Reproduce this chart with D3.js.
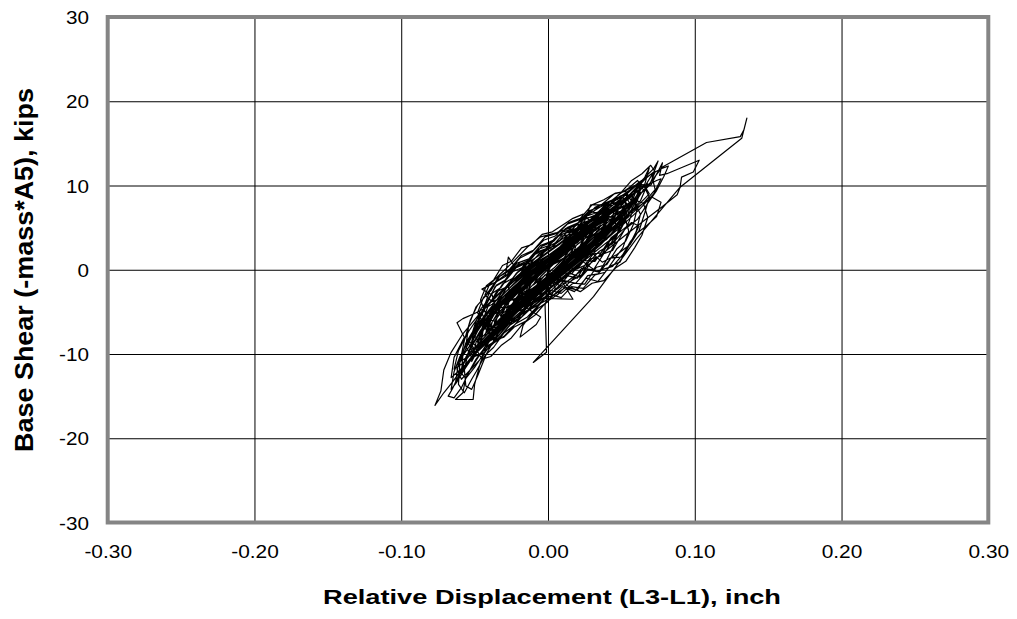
<!doctype html>
<html>
<head>
<meta charset="UTF-8">
<title>Base shear vs relative displacement</title>
<script src="https://d3js.org/d3.v7.min.js"></script>
<style>
  body { margin: 0; background: #fff; }
  svg text { font-family: "Liberation Sans", Arial, sans-serif; fill: #000; }
</style>
</head>
<body>
<svg id="chart" width="1017" height="619"></svg>
<script>
// axis ticks and labels
var xTicks = [-0.30, -0.20, -0.10, 0.00, 0.10, 0.20, 0.30];
var xTickLabels = ["-0.30", "-0.20", "-0.10", "0.00", "0.10", "0.20", "0.30"];
var yTicks = [-30, -20, -10, 0, 10, 20, 30];
var yTickLabels = ["-30", "-20", "-10", "0", "10", "20", "30"];
var xTitle = "Relative Displacement (L3-L1), inch";
var yTitle = "Base Shear (-mass*A5), kips";

// [displacement (inch), base shear (kips)], in drawing order
var loopsEarly = [
  [0.000,0.3],[0.006,1.2],[0.013,2.4],[0.019,3.3],[0.016,2.2],[0.009,0.8],[0.001,-0.6],[-0.008,-1.9],[-0.015,-3.0],[-0.011,-1.4],[-0.004,-0.1],
  [0.005,1.3],[0.014,2.8],[0.024,4.1],[0.031,5.0],[0.028,3.6],[0.020,1.9],[0.010,0.4],[0.000,-1.2],[-0.011,-2.9],[-0.022,-4.3],[-0.029,-5.2],[-0.026,-3.5],[-0.017,-1.6],[-0.007,0.0],
  [0.004,1.7],[0.015,3.3],[0.027,4.9],[0.038,6.4],[0.046,7.5],[0.043,5.8],[0.034,3.9],[0.022,2.1],[0.010,0.3],[-0.003,-1.6],[-0.016,-3.6],[-0.029,-5.8],[-0.040,-7.7],[-0.048,-9.3],[-0.046,-7.4],[-0.037,-5.1],[-0.026,-2.8],[-0.014,-0.9],[-0.002,0.9],
  [0.011,2.8],[0.023,4.6],[0.035,6.0],[0.042,6.8],[0.039,5.1],[0.029,3.2],[0.017,1.4],[0.004,-0.5],[-0.010,-2.4],[-0.023,-4.4],[-0.035,-6.3],[-0.043,-7.9],[-0.040,-5.9],[-0.030,-3.8],[-0.018,-1.8],[-0.006,0.2],
  [0.008,2.0],[0.021,3.9],[0.034,5.6],[0.047,7.4],[0.056,8.9],[0.061,9.8],[0.057,8.0],[0.048,6.0],[0.036,4.0],[0.023,2.0],[0.009,-0.1],[-0.006,-2.2],[-0.020,-4.3],[-0.033,-6.5],[-0.044,-8.6],[-0.053,-10.7],[-0.059,-12.3],[-0.058,-10.1],[-0.051,-7.6],[-0.041,-5.2],[-0.029,-3.0],[-0.016,-0.9],[-0.003,1.0],
  [0.012,3.0],[0.026,4.8],[0.039,6.5],[0.048,7.6],[0.044,5.7],[0.033,3.5],[0.019,1.3],[0.004,-0.9],[-0.011,-3.1],[-0.026,-5.4],[-0.039,-7.6],[-0.050,-9.8],[-0.058,-11.8],[-0.063,-13.4],[-0.061,-11.0],[-0.055,-8.5],[-0.046,-6.1],[-0.034,-3.8],[-0.020,-1.5],[-0.007,0.5]
];
var loopsMid = [
  [0.009,2.6],[0.024,4.5],[0.038,6.3],[0.050,8.0],[0.060,9.6],[0.067,10.9],[0.072,11.6],[0.066,9.9],[0.069,9.0],[0.060,7.4],[0.047,5.5],[0.033,3.4],[0.018,1.1],[0.003,-1.2],[-0.012,-3.5],[-0.026,-5.9],[-0.039,-8.3],[-0.049,-10.6],[-0.056,-12.8],[-0.058,-14.6],[-0.063,-15.4],[-0.051,-15.4],[-0.050,-13.6],[-0.046,-11.0],[-0.040,-8.4],[-0.031,-5.9],[-0.019,-3.4],[-0.006,-1.0],
  [0.007,1.2],[0.020,3.0],[0.031,4.5],[0.039,5.6],[0.035,3.9],[0.024,2.0],[0.012,0.2],[-0.001,-1.7],[-0.014,-3.7],[-0.027,-5.6],[-0.038,-7.3],[-0.041,-5.6],[-0.033,-3.4],[-0.022,-1.4],[-0.010,0.4],
  [0.004,2.2],[0.018,4.0],[0.032,5.7],[0.045,7.5],[0.054,9.1],[0.052,7.2],[0.043,5.2],[0.031,3.1],[0.017,0.9],[0.002,-1.3],[-0.013,-3.6],[-0.028,-6.0],[-0.041,-8.4],[-0.052,-10.5],[-0.060,-11.9],[-0.066,-12.8],[-0.064,-10.4],[-0.057,-8.0],[-0.062,-6.3],[-0.058,-5.8],[-0.050,-5.2],[-0.038,-4.1],[-0.025,-2.0],[-0.012,0.0],
  [0.002,1.9],[0.016,3.8],[0.030,5.5],[0.044,7.3],[0.056,9.0],[0.064,10.5],[0.061,8.6],[0.052,6.6],[0.039,4.5],[0.025,2.3],[0.010,0.0],[-0.006,-2.3],[-0.021,-4.6],[-0.035,-6.9],[-0.047,-9.2],[-0.057,-11.4],[-0.065,-13.3],[-0.071,-14.6],[-0.077,-16.1],[-0.073,-14.4],[-0.071,-11.9],[-0.066,-9.8],[-0.058,-7.6],[-0.047,-5.3],[-0.034,-3.0],[-0.020,-0.9],[-0.006,1.1],
  [0.009,2.6],[0.021,4.0],[0.030,5.0],[0.027,3.4],[0.017,1.6],[0.005,-0.3],[-0.008,-2.3],[-0.021,-4.1],[-0.032,-5.6],[-0.035,-4.0],[-0.028,-2.1],[-0.017,-0.3],[-0.005,1.4],
  [0.010,3.3],[0.025,5.2],[0.040,7.1],[0.053,8.9],[0.064,10.6],[0.072,12.0],[0.075,12.9],[0.071,11.0],[0.073,9.5],[0.066,8.1],[0.055,6.3],[0.041,4.3],[0.026,2.2],[0.011,0.0],[-0.005,-2.3],[-0.020,-4.5],[-0.034,-6.8],[-0.046,-8.8],[-0.055,-10.4],[-0.060,-10.9],[-0.056,-8.7],[-0.048,-6.4],[-0.037,-4.3],[-0.024,-2.1],[-0.010,0.0]
];
var loopsLate = [
  [0.005,2.1],[0.019,3.9],[0.033,5.7],[0.046,7.4],[0.055,8.4],[0.058,8.9],[0.054,6.9],[0.044,4.9],[0.031,2.8],[0.016,0.6],[0.001,-1.6],[-0.014,-3.8],[-0.028,-6.0],[-0.040,-8.0],[-0.047,-9.2],[-0.044,-7.1],[-0.035,-4.8],[-0.023,-2.6],[-0.010,-0.5],
  [0.003,1.4],[0.014,2.8],[0.023,3.9],[0.027,4.3],[0.022,2.8],[0.012,1.1],[0.000,-0.8],[-0.012,-2.4],[-0.022,-3.4],[-0.028,-3.8],[-0.024,-2.2],[-0.015,-0.6],[-0.003,1.0],
  [0.010,2.7],[0.023,4.3],[0.035,5.4],[0.045,6.2],[0.040,4.6],[0.030,2.9],[0.017,1.0],[0.003,-1.0],[-0.011,-3.0],[-0.025,-5.0],[-0.038,-7.0],[-0.048,-8.9],[-0.054,-10.0],[-0.050,-7.8],[-0.041,-5.5],[-0.029,-3.3],[-0.016,-1.2],[-0.003,0.7],
  [0.011,2.7],[0.025,4.6],[0.039,6.5],[0.052,8.3],[0.062,9.5],[0.068,10.2],[0.063,8.2],[0.053,6.2],[0.040,4.1],[0.026,2.0],[0.011,-0.1],[-0.004,-2.1],[-0.018,-4.0],[-0.031,-5.8],[-0.040,-7.0],[-0.042,-7.4],[-0.037,-5.2],[-0.027,-3.0],[-0.015,-0.9],[-0.002,1.1],
  [0.013,3.1],[0.027,5.0],[0.041,6.8],[0.054,8.4],[0.065,9.8],[0.074,10.6],[0.077,10.8],[0.072,9.0],[0.062,7.1],[0.049,5.0],[0.035,2.9],[0.020,0.8],[0.005,-1.2],[-0.010,-3.1],[-0.024,-5.0],[-0.037,-7.1],[-0.049,-9.3],[-0.058,-11.1],[-0.064,-11.8],[-0.061,-9.6],[-0.054,-7.3],[-0.045,-5.0],[-0.034,-2.9],[-0.022,-0.9],[-0.009,1.0],
  [0.006,2.9],[0.020,4.7],[0.034,6.2],[0.046,7.0],[0.052,7.5],[0.048,5.6],[0.038,3.6],[0.025,1.6],[0.011,-0.3],[-0.003,-2.1],[-0.016,-3.6],[-0.028,-4.5],[-0.036,-4.4],[-0.038,-3.0],[-0.045,-2.3],[-0.036,-1.5],[-0.029,-0.6],[-0.027,1.5],[-0.022,0.2],[-0.012,1.0],[0.000,2.4]
];
var bigExcursion = [
  [0.014,4.2],[0.029,6.0],[0.043,7.9],[0.056,9.5],[0.064,10.4],[0.060,8.6],[0.051,6.7],[0.039,4.7],[0.026,2.7],[0.013,0.7],[0.003,-1.2],[-0.002,-4.2],[-0.001,-9.8],[-0.010,-11.0],
  [0.031,-3.2],[0.060,3.6],[0.090,9.8],[0.132,15.6],[0.1355,18.0],[0.1335,16.6],[0.131,15.8],[0.108,15.1],[0.078,12.2],[0.070,10.4],[0.058,8.0],[0.044,5.6],[0.029,3.2],[0.014,0.9],[0.000,-1.3],
  [-0.014,-3.4],[-0.027,-5.4],[-0.039,-7.6],[-0.048,-9.6],[-0.052,-10.9],[-0.049,-8.6],[-0.041,-6.2],[-0.030,-3.9],[-0.018,-1.7],[-0.005,0.3]
];
var loopsTailA = [
  [0.010,2.9],[0.024,4.8],[0.038,6.6],[0.051,8.3],[0.063,9.9],[0.070,10.0],[0.078,12.7],[0.076,11.2],[0.081,11.4],[0.092,12.2],[0.103,13.0],[0.099,11.6],[0.091,11.0],[0.090,9.8],[0.088,8.9],[0.078,7.5],[0.066,5.9],[0.052,4.0],[0.037,1.9],[0.022,-0.2],[0.007,-2.2],[-0.008,-4.0],[-0.021,-5.7],[-0.030,-6.4],[-0.027,-4.6],[-0.018,-2.7],[-0.006,-0.7],
  [0.008,1.5],[0.020,3.3],[0.030,4.6],[0.036,5.3],[0.031,3.8],[0.021,2.1],[0.009,0.2],[-0.004,-1.7],[-0.016,-3.5],[-0.026,-4.9],[-0.032,-5.5],[-0.029,-3.9],[-0.020,-2.0],[-0.008,-0.1],
  [0.006,2.0],[0.019,3.6],[0.029,4.8],[0.034,5.6],[0.030,4.2],[0.022,2.6],[0.011,0.9],[-0.001,-0.9],[-0.013,-2.7],[-0.024,-4.3],[-0.031,-5.2],[-0.027,-3.7],[-0.018,-1.9],[-0.007,0.0],
  [0.007,1.8],[0.021,3.6],[0.033,5.2],[0.040,6.1],[0.036,4.5],[0.027,2.6],[0.015,0.7],[0.002,-1.2],[-0.010,-3.0],[-0.021,-4.6],[-0.026,-5.1],[-0.022,-3.4],[-0.013,-1.6],[-0.002,0.2],
  [0.010,2.2],[0.023,4.1],[0.035,5.9],[0.043,7.0],[0.048,7.7],[0.045,6.0],[0.036,4.1],[0.024,2.1],[0.011,0.1],[-0.003,-2.0],[-0.016,-4.0],[-0.029,-6.1],[-0.040,-8.1],[-0.046,-9.0],[-0.044,-7.0],[-0.036,-4.8],[-0.025,-2.6],[-0.012,-0.5],
  [0.002,1.6],[0.014,3.8],[0.025,5.8],[0.029,7.7],[0.035,7.7],[0.043,7.6],[0.050,8.1],[0.053,7.0],[0.047,5.0],[0.036,3.0],[0.023,1.0],[0.009,-1.0],[-0.005,-3.0],[-0.018,-4.9],[-0.030,-6.7],[-0.039,-8.0],[-0.036,-6.0],[-0.027,-3.9],[-0.015,-1.8],[-0.003,0.2],
  [0.011,2.4],[0.024,4.2],[0.034,5.6],[0.041,6.4],[0.038,4.9],[0.029,3.0],[0.017,1.1],[0.004,-0.9],[-0.009,-2.8],[-0.020,-4.4],[-0.027,-5.3],[-0.023,-3.6],[-0.014,-1.8],[-0.003,0.1],
  [0.012,1.5],[0.026,2.6],[0.037,0.9],[0.047,1.8],[0.056,3.0],[0.061,4.4],[0.067,5.2],[0.074,6.3],[0.077,8.0],[0.071,8.6],[0.060,7.3],[0.047,5.5],[0.032,3.3],[0.017,1.1],[0.002,-1.1],[-0.013,-3.2],[-0.026,-5.1],[-0.036,-6.5],[-0.033,-4.6],[-0.024,-2.5],[-0.012,-0.5],
  [0.000,1.2],[0.012,2.9],[0.024,4.4],[0.031,5.0],[0.026,3.5],[0.017,1.6],[0.006,-0.4],[0.017,-3.5],[-0.002,-3.4],[-0.012,-5.4],[-0.017,-6.6],[-0.019,-8.0],[-0.008,-6.5],[-0.005,-5.6],[-0.016,-4.4],[-0.022,-3.6],[-0.016,-1.9],[-0.006,-0.1]
];
var loopsTailB = [
  [0.004,1.1],[0.012,2.2],[0.018,2.9],[0.015,1.5],[0.007,0.0],[-0.002,-1.4],[-0.011,-2.6],[-0.016,-3.1],[-0.013,-1.7],[-0.005,-0.3],
  [0.006,1.6],[0.016,3.1],[0.025,4.2],[0.022,2.6],[0.013,0.9],[0.003,-0.8],[-0.008,-2.4],[-0.018,-3.7],[-0.023,-4.1],[-0.019,-2.5],[-0.010,-0.8],[0.000,0.9],
  [0.010,2.4],[0.019,3.4],[0.024,3.6],[0.020,2.2],[0.011,0.6],[0.000,-1.1],[-0.011,-2.6],[-0.019,-3.5],[-0.016,-1.9],[-0.008,-0.4],
  [0.003,1.0],[-0.010,-0.9],[-0.021,-2.6],[-0.031,-4.1],[-0.040,-5.6],[-0.047,-6.9],[-0.052,-7.6],[-0.054,-8.3],[-0.050,-9.5],[-0.043,-8.4],[-0.033,-6.6],[-0.022,-4.6],[-0.010,-2.5],[0.003,-0.4],[0.016,1.7],[0.028,3.6],[0.037,5.0],[0.034,3.4],[0.025,1.8],[0.014,0.1],[0.002,-1.5],
  [-0.010,-2.8],[-0.023,-4.8],[-0.036,-7.0],[-0.047,-9.3],[-0.056,-11.6],[-0.062,-13.3],[-0.066,-14.2],[-0.064,-12.1],[-0.060,-10.3],[-0.054,-8.4],[-0.045,-6.3],[-0.034,-4.2],[-0.022,-2.3],[-0.009,-0.4],[0.004,1.5],[0.017,3.2],[0.029,4.8],[0.039,6.0],[0.045,6.4],[0.041,4.8],[0.032,2.9],[0.019,0.9],[0.005,-1.1],
  [-0.009,-3.1],[-0.022,-5.2],[-0.034,-7.5],[-0.042,-10.0],[-0.048,-12.6],[-0.052,-14.2],[-0.056,-13.8],[-0.057,-11.8],[-0.054,-9.6],[-0.046,-7.2],[-0.035,-4.8],[-0.023,-2.5],[-0.010,-0.4],[0.004,1.6],[0.018,3.4],[0.030,4.9],[0.040,5.9],[0.047,6.9],
  [0.043,5.0],[0.033,3.1],[0.021,1.2],[0.008,-0.7],[-0.005,-2.5],[-0.017,-4.1],[-0.024,-4.9],[-0.020,-3.1],[-0.011,-1.3],[0.000,0.5],[0.011,2.0],[0.019,2.8],[0.016,1.4],[0.008,-0.1],[-0.002,-1.4],[-0.008,-2.0],[-0.005,-0.8],[0.002,0.4],
  [0.014,2.8],[0.027,4.8],[0.040,7.0],[0.030,6.0],[0.017,5.1],[0.006,4.4],[-0.005,3.9],[-0.014,2.7],[-0.024,0.9],[-0.033,-0.6],[-0.040,-1.8],[-0.043,-3.0],[-0.038,-3.8],[-0.028,-3.0],[-0.016,-1.6],[-0.003,0.2],[0.010,2.1],
  [0.022,1.2],[0.033,-0.2],[0.044,0.4],[0.052,2.0],[0.058,3.7],[0.062,5.2],[0.057,5.6],[0.047,4.2],[0.034,2.4],[0.020,0.4],[0.006,-1.6],[-0.007,-3.4],[-0.015,-4.3],[-0.010,-2.7],[0.000,-0.9],
  [0.013,1.5],[0.027,3.6],[0.040,5.5],[0.051,7.2],[0.059,8.5],[0.063,9.2],[0.059,7.4],[0.050,5.4],[0.037,3.3],[0.023,1.2],[0.008,-0.9],[-0.007,-3.0],[-0.021,-5.0],[-0.033,-6.9],[-0.041,-8.2],[-0.038,-6.2],[-0.029,-4.1],[-0.017,-2.0],[-0.004,0.0],
  [0.009,2.0],[0.022,3.9],[0.035,5.6],[0.047,7.2],[0.056,8.6],[0.062,9.8],[0.066,11.0],[0.069,12.1],[0.066,10.2],[0.058,8.2],[0.046,6.1],[0.032,4.0],[0.017,1.8],[0.002,-0.4],[-0.013,-2.6],[-0.027,-4.8],[-0.039,-6.9],[-0.048,-8.6],[-0.044,-6.4],[-0.035,-4.3],[-0.023,-2.2],[-0.010,-0.2],[0.002,1.4],
  [0.010,2.2],[0.016,2.9],[0.012,1.6],[0.004,0.2],[-0.005,-1.1],[-0.010,-1.8],[-0.006,-0.6],[0.000,0.3]
];
// wider, noisier cycles that fill out the band
var loopsWideA = [
  [0.000,-1.0],[0.008,-1.9],[0.015,-0.4],[0.022,-0.9],[0.029,1.3],[0.036,1.6],[0.042,3.4],[0.047,4.0],[0.050,6.1],[0.046,7.3],[0.039,7.0],[0.031,6.4],[0.024,5.9],[0.016,4.2],[0.009,4.0],[0.002,2.6],[-0.006,1.9],[-0.014,0.4],[-0.021,-0.3],[-0.029,-2.1],[-0.035,-2.6],[-0.041,-4.4],[-0.045,-6.3],[-0.041,-7.4],[-0.035,-7.8],[-0.028,-6.4],[-0.021,-6.0],[-0.014,-4.3],[-0.007,-3.7],
  [0.001,-2.4],[0.009,-2.8],[0.017,-1.6],[0.025,-1.7],[0.033,0.3],[0.040,0.6],[0.047,2.5],[0.053,3.4],[0.058,5.3],[0.061,7.4],[0.057,8.9],[0.050,8.8],[0.043,8.1],[0.035,7.4],[0.027,6.5],[0.019,5.3],[0.011,4.7],[0.003,3.4],[-0.005,2.9],[-0.013,1.3],[-0.021,0.8],[-0.029,-0.8],[-0.036,-1.5],[-0.043,-3.2],[-0.049,-4.4],[-0.054,-6.6],[-0.056,-9.1],[-0.052,-10.4],[-0.046,-10.0],[-0.040,-8.9],[-0.033,-8.1],[-0.026,-6.6],[-0.019,-5.8],[-0.011,-4.5],[-0.004,-3.5],
  [0.004,-3.0],[0.012,-2.1],[0.020,-2.4],[0.027,-0.7],[0.034,-0.5],[0.040,1.2],[0.045,2.9],[0.048,4.8],[0.044,6.2],[0.037,6.6],[0.029,6.9],[0.021,5.9],[0.013,5.4],[0.005,4.0],[-0.003,3.5],[-0.011,2.1],[-0.019,1.4],[-0.027,-0.2],[-0.034,-0.9],[-0.040,-2.7],[-0.044,-4.6],[-0.040,-5.9],[-0.033,-6.3],[-0.025,-5.2],[-0.017,-4.7],[-0.009,-3.1],
  [-0.001,-2.6],[0.007,-1.2],[0.015,-1.5],[0.023,0.2],[0.031,0.0],[0.038,1.9],[0.044,2.3],[0.050,4.1],[0.055,5.6],[0.058,7.2],[0.054,8.4],[0.047,8.0],[0.039,7.7],[0.031,6.3],[0.023,6.0],[0.015,4.5],[0.007,4.1],[-0.001,2.5],[-0.009,2.0],[-0.017,0.3],[-0.025,-0.3],[-0.032,-2.1],[-0.038,-2.8],[-0.044,-4.6],[-0.049,-6.5],[-0.052,-8.5],[-0.048,-9.3],[-0.041,-8.6],[-0.034,-7.9],[-0.026,-6.3],[-0.018,-5.6],[-0.010,-4.0],[-0.002,-3.2],
  [0.006,-1.8],[0.013,-0.7],[0.020,-1.0],[0.026,0.8],[0.031,1.9],[0.035,3.6],[0.032,5.0],[0.026,5.3],[0.019,4.9],[0.012,4.4],[0.005,3.8],[-0.002,2.4],[-0.009,1.8],[-0.016,0.3],[-0.022,-0.5],[-0.027,-2.1],[-0.024,-3.6],[-0.018,-4.4],[-0.011,-4.2],[-0.004,-3.0],
  [0.003,-2.7],[0.011,-1.3],[0.019,-1.6],[0.027,0.0],[0.035,-0.3],[0.043,1.4],[0.050,1.5],[0.056,3.3],[0.062,4.6],[0.066,6.8],[0.069,8.6],[0.065,10.1],[0.059,10.0],[0.052,9.3],[0.045,9.0],[0.037,7.8],[0.029,7.0],[0.021,5.6],[0.013,5.0],[0.005,3.6],[-0.003,3.0],[-0.011,1.4],[-0.019,0.9],[-0.027,-0.6],[-0.035,-1.4],[-0.042,-3.0],[-0.048,-4.2],[-0.053,-6.0],[-0.057,-8.4],[-0.060,-10.9],[-0.061,-13.6],[-0.057,-14.6],[-0.052,-13.0],[-0.049,-12.1],[-0.043,-10.2],[-0.037,-9.2],[-0.030,-7.5],[-0.023,-6.6],[-0.015,-5.0],[-0.007,-4.2],
  [0.001,-2.9],[0.009,-3.3],[0.016,-2.0],[0.024,-2.2],[0.032,-0.6],[0.039,-0.3],[0.045,1.2],[0.051,2.6],[0.055,4.6],[0.052,6.5],[0.046,7.2],[0.039,6.8],[0.032,6.4],[0.024,5.1],[0.016,4.6],[0.008,3.0],[0.000,2.6],[-0.008,1.0],[-0.016,0.6],[-0.024,-1.0],[-0.031,-1.7],[-0.037,-3.4],[-0.042,-4.3],[-0.047,-6.0],[-0.050,-7.8],[-0.046,-8.9],[-0.040,-8.4],[-0.033,-7.7],[-0.026,-6.0],[-0.019,-5.5],[-0.012,-4.0],[-0.005,-3.3]
];
var loopsWideB = [
  [0.004,-1.1],[0.012,0.3],[0.020,0.1],[0.028,1.8],[0.036,2.0],[0.043,3.8],[0.049,4.6],[0.054,6.3],[0.057,8.1],[0.053,9.3],[0.046,9.1],[0.038,8.3],[0.030,7.7],[0.022,6.1],[0.014,5.6],[0.006,4.3],[-0.002,3.9],[-0.010,2.3],[-0.018,1.7],[-0.026,0.1],[-0.033,-0.8],[-0.039,-2.5],[-0.044,-3.3],[-0.048,-5.1],[-0.044,-6.4],[-0.037,-6.8],[-0.030,-6.0],[-0.023,-5.4],[-0.016,-3.9],[-0.008,-3.2],
  [0.000,-1.5],[0.008,-0.3],[0.016,-0.5],[0.024,1.1],[0.032,1.0],[0.039,2.7],[0.045,3.4],[0.050,5.2],[0.047,6.8],[0.040,7.3],[0.032,6.7],[0.025,6.3],[0.017,4.9],[0.009,4.4],[0.001,2.9],[-0.007,2.4],[-0.015,0.8],[-0.023,0.3],[-0.030,-1.4],[-0.036,-2.0],[-0.041,-3.8],[-0.045,-5.1],[-0.042,-6.6],[-0.035,-6.9],[-0.028,-5.6],[-0.021,-5.0],[-0.013,-3.5],[-0.006,-2.8],
  [0.002,0.5],[0.010,1.2],[0.017,2.9],[0.023,4.0],[0.028,5.9],[0.024,6.6],[0.017,6.1],[0.010,5.3],[0.003,4.5],[-0.004,4.2],[-0.011,3.0],[-0.018,2.6],[-0.025,1.0],[-0.031,0.5],[-0.037,-1.2],[-0.042,-1.9],[-0.046,-3.6],[-0.043,-5.0],[-0.037,-5.3],[-0.030,-4.6],[-0.023,-4.0],[-0.016,-2.6],[-0.009,-2.1],[-0.002,-0.6],
  [0.006,-0.4],[0.014,-2.0],[0.022,-2.6],[0.030,-1.6],[0.038,-1.3],[0.046,0.2],[0.053,1.0],[0.059,2.6],[0.064,4.1],[0.068,6.2],[0.065,7.9],[0.059,8.3],[0.052,7.6],[0.044,7.0],[0.036,5.5],[0.028,4.8],[0.020,3.2],[0.012,2.5],[0.004,1.0],[-0.004,0.3],[-0.012,-1.3],[-0.020,-2.0],[-0.027,-3.7],[-0.034,-4.5],[-0.040,-6.3],[-0.045,-7.4],[-0.049,-9.4],[-0.045,-10.6],[-0.039,-10.3],[-0.032,-9.0],[-0.025,-8.1],[-0.017,-6.4],[-0.009,-5.4],[-0.001,-3.8],
  [0.007,-2.9],[0.015,-1.4],[0.023,-0.6],[0.031,1.2],[0.039,2.1],[0.046,4.0],[0.051,5.5],[0.055,7.4],[0.051,8.6],[0.044,8.3],[0.036,7.5],[0.028,7.0],[0.020,5.5],[0.012,4.9],[0.004,3.4],[-0.004,2.8],[-0.012,1.2],[-0.020,0.6],[-0.028,-1.1],[-0.035,-1.8],[-0.041,-3.6],[-0.046,-4.7],[-0.050,-6.6],[-0.054,-8.8],[-0.050,-10.3],[-0.044,-9.9],[-0.037,-8.7],[-0.030,-7.9],[-0.022,-6.4],[-0.014,-5.6],[-0.006,-4.1],[0.002,-3.3],
  [0.010,-2.0],[0.018,-2.6],[0.026,-1.0],[0.034,-1.4],[0.042,0.4],[0.049,0.9],[0.055,2.8],[0.060,4.5],[0.063,6.6],[0.059,8.0],[0.052,7.6],[0.045,7.1],[0.037,5.6],[0.029,5.0],[0.021,3.5],[0.013,2.8],[0.005,1.2],[-0.003,0.6],[-0.011,-1.0],[-0.018,-1.7],[-0.025,-3.4],[-0.031,-4.1],[-0.037,-5.9],[-0.041,-7.1],[-0.037,-8.4],[-0.030,-8.0],[-0.023,-6.8],[-0.015,-6.1],[-0.007,-4.6],[0.000,-3.8],[0.005,-2.2],[0.000,0.0]
];
// a few more large cycles reaching the outer lobes
var loopsOuter = [
  [0.008,-1.2],[0.017,-0.1],[0.026,0.6],[0.035,2.2],[0.044,3.1],[0.053,4.9],[0.061,6.0],[0.068,7.9],[0.074,9.4],[0.079,11.1],[0.082,12.3],[0.077,12.0],[0.070,11.3],[0.062,10.4],[0.054,9.2],[0.045,8.1],[0.036,6.6],[0.027,5.4],[0.018,3.9],[0.009,2.7],[0.000,1.1],[-0.009,-0.1],[-0.018,-1.8],[-0.027,-3.1],[-0.035,-4.9],[-0.043,-6.4],[-0.050,-8.5],[-0.056,-10.4],[-0.061,-12.6],[-0.065,-14.1],[-0.068,-15.0],[-0.064,-15.2],[-0.059,-14.0],[-0.054,-12.2],[-0.048,-10.5],[-0.041,-8.6],[-0.033,-7.0],[-0.024,-5.2],[-0.015,-3.7],[-0.006,-2.0],
  [0.003,-0.6],[0.012,1.0],[0.021,2.0],[0.030,3.7],[0.039,4.6],[0.048,6.3],[0.056,7.3],[0.063,9.0],[0.069,10.0],[0.073,11.6],[0.070,12.4],[0.064,11.4],[0.057,10.6],[0.049,9.0],[0.041,7.9],[0.032,6.2],[0.023,5.1],[0.014,3.4],[0.005,2.3],[-0.004,0.6],[-0.013,-0.4],[-0.022,-2.2],[-0.031,-3.3],[-0.039,-5.2],[-0.046,-6.6],[-0.052,-8.7],[-0.058,-10.2],[-0.062,-11.8],[-0.059,-13.0],[-0.053,-11.9],[-0.047,-10.8],[-0.040,-9.1],[-0.032,-7.8],[-0.023,-5.9],[-0.014,-4.5],[-0.005,-2.6],
  [0.004,-1.4],[0.013,0.2],[0.022,1.1],[0.031,2.8],[0.040,3.6],[0.048,5.4],[0.055,6.6],[0.061,8.4],[0.065,9.5],[0.061,10.6],[0.055,9.7],[0.048,8.9],[0.040,7.3],[0.031,6.3],[0.022,4.6],[0.013,3.5],[0.004,1.8],[-0.005,0.8],[-0.014,-1.0],[-0.023,-2.1],[-0.031,-4.0],[-0.039,-5.3],[-0.046,-7.4],[-0.052,-9.1],[-0.057,-11.0],[-0.060,-12.1],[-0.056,-12.9],[-0.050,-11.6],[-0.044,-10.0],[-0.037,-8.5],[-0.029,-6.8],[-0.020,-5.4],[-0.011,-3.6],[-0.002,-2.3],
  [0.006,-0.4],[0.014,0.4],[0.022,2.1],[0.030,2.9],[0.038,4.6],[0.045,5.5],[0.051,7.3],[0.047,8.5],[0.040,8.0],[0.032,7.4],[0.024,5.9],[0.016,5.1],[0.008,3.5],[0.000,2.7],[-0.008,1.0],[-0.016,0.2],[-0.024,-1.5],[-0.031,-2.6],[-0.038,-4.3],[-0.044,-5.6],[-0.049,-7.4],[-0.053,-9.0],[-0.049,-9.9],[-0.043,-8.9],[-0.036,-7.6],[-0.028,-6.1],[-0.020,-4.9],[-0.011,-3.2],[-0.002,-1.8],[0.000,0.0]
];

var trace = loopsEarly.concat(loopsMid, loopsLate, bigExcursion, loopsTailA, loopsTailB, loopsWideA, loopsWideB, loopsOuter);

// plot box (window.top is reserved, so use a margin object)
var box = { left: 107.7, right: 988.3, top: 17, bottom: 522.5 };

var svg = d3.select("#chart");

var x = d3.scaleLinear().domain([-0.3, 0.3]).range([box.left, box.right]);
var y = d3.scaleLinear().domain([-30, 30]).range([box.bottom, box.top]);

// x axis with grid
var xAxis = d3.axisBottom(x)
    .tickValues(xTicks)
    .tickSize(-(box.bottom - box.top))
    .tickFormat(function (d, i) { return xTickLabels[i]; });

var gx = svg.append("g")
    .attr("transform", "translate(0," + box.bottom + ")")
    .call(xAxis);
gx.select(".domain").remove();
gx.selectAll("line").attr("stroke", "#000").attr("stroke-width", 1);
gx.selectAll("text")
    .attr("y", 0).attr("dy", null)
    .attr("transform", "translate(0,35.5) scale(1.16,1)")
    .style("font-size", "18px");

// y axis with grid
var yAxis = d3.axisLeft(y)
    .tickValues(yTicks)
    .tickSize(-(box.right - box.left))
    .tickFormat(function (d, i) { return yTickLabels[i]; });

var gy = svg.append("g")
    .attr("transform", "translate(" + box.left + ",0)")
    .call(yAxis);
gy.select(".domain").remove();
gy.selectAll("line").attr("stroke", "#000").attr("stroke-width", 1);
gy.selectAll("text")
    .attr("x", 0).attr("dy", null)
    .attr("transform", "translate(-18.7,6.5) scale(1.15,1)")
    .style("font-size", "18px");

// the trace
var line = d3.line()
    .x(function (d) { return x(d[0]); })
    .y(function (d) { return y(d[1]); });

svg.append("path")
    .datum(trace)
    .attr("d", line)
    .attr("fill", "none")
    .attr("stroke", "#000")
    .attr("stroke-width", 1.2)
    .attr("stroke-linejoin", "round");

// grey frame
svg.append("rect")
    .attr("x", box.left).attr("y", box.top)
    .attr("width", box.right - box.left).attr("height", box.bottom - box.top)
    .attr("fill", "none")
    .attr("stroke", "#858585")
    .attr("stroke-width", 4);

// titles
svg.append("text")
    .attr("x", 552).attr("y", 604)
    .attr("text-anchor", "middle")
    .attr("textLength", 458).attr("lengthAdjust", "spacingAndGlyphs")
    .style("font-size", "20px").style("font-weight", "bold")
    .text(xTitle);

svg.append("text")
    .attr("transform", "translate(33,270) rotate(-90)")
    .attr("text-anchor", "middle")
    .attr("textLength", 364).attr("lengthAdjust", "spacingAndGlyphs")
    .style("font-size", "25px").style("font-weight", "bold")
    .text(yTitle);
</script>
</body>
</html>
